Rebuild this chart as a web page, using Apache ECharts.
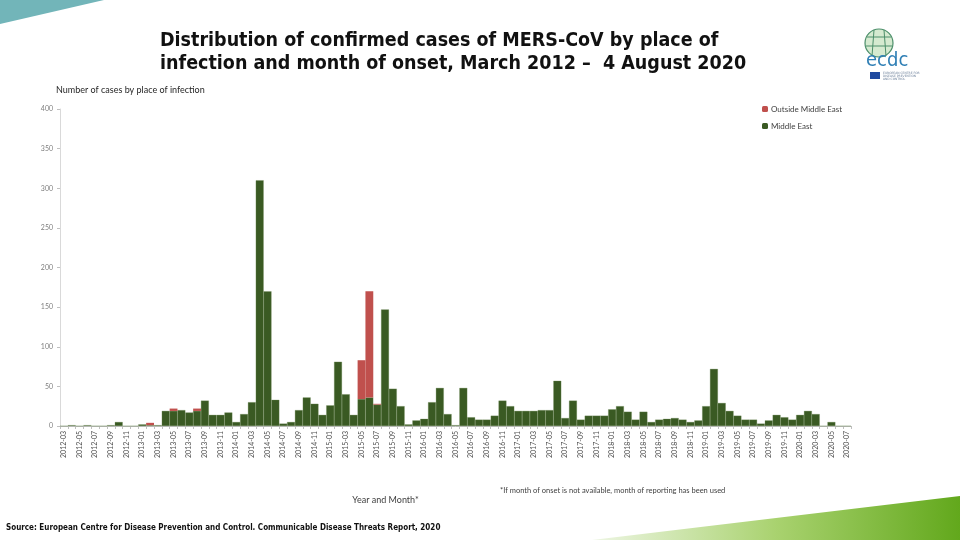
<!DOCTYPE html>
<html>
<head>
<meta charset="utf-8">
<script src="https://cdn.jsdelivr.net/npm/echarts@6/dist/echarts.min.js"></script>
<style>
  html, body { margin: 0; padding: 0; background: #fff; }
  #main { width: 960px; height: 540px; }
</style>
</head>
<body>
<div id="main"></div>
<script>
// months March 2012 - July 2020
const months = [];
for (let y = 2012; y <= 2020; y++) {
  for (let m = 1; m <= 12; m++) {
    if (y === 2012 && m < 3) continue;
    if (y === 2020 && m > 7) continue;
    months.push(y + '-' + (m < 10 ? '0' + m : m));
  }
}

const middleEast = [
  0, 1, 0, 1, 0, 0, 1, 5, 0, 0,          // 2012-03 .. 2012-12
  2, 1, 1, 19, 19, 20, 17, 19, 32, 14, 14, 17,   // 2013
  5, 15, 30, 310, 170, 33, 3, 5, 20, 36, 28, 14, // 2014
  26, 81, 40, 14, 34, 36, 27, 147, 47, 25, 2, 7, // 2015
  9, 30, 48, 15, 1, 48, 11, 8, 8, 13, 32, 25,    // 2016
  19, 19, 19, 20, 20, 57, 10, 32, 8, 13, 13, 13, // 2017
  21, 25, 18, 8, 18, 5, 8, 9, 10, 8, 5, 7,       // 2018
  25, 72, 29, 19, 13, 8, 8, 3, 7, 14, 11, 8,     // 2019
  14, 19, 15, 0, 5, 0, 0                         // 2020-01 .. 2020-07
];

const outsideMiddleEast = [
  0, 0, 0, 0, 0, 0, 0, 0, 0, 0,
  0, 3, 0, 0, 3, 0, 0, 3, 0, 0, 0, 0,
  0, 0, 0, 0, 0, 0, 0, 0, 0, 0, 0, 0,
  0, 0, 0, 0, 49, 134, 1, 0, 0, 0, 0, 0,
  0, 0, 0, 0, 0, 0, 0, 0, 0, 0, 0, 0,
  0, 0, 0, 0, 0, 0, 0, 0, 0, 0, 0, 0,
  0, 0, 0, 0, 0, 0, 0, 0, 0, 0, 0, 0,
  0, 0, 0, 0, 0, 0, 0, 0, 0, 0, 0, 0,
  0, 0, 0, 0, 0, 0, 0
];

const yTicks = [0, 50, 100, 150, 200, 250, 300, 350, 400];

const chart = echarts.init(document.getElementById('main'));
const font = 'Lato';

const options = {
  animation: false,
  title: {
    text: 'Distribution of confirmed cases of MERS-CoV by place of\ninfection and month of onset, March 2012 \u2013  4 August 2020',
    left: 155,
    top: 24,
    textStyle: {
      fontFamily: 'DejaVu Sans Condensed',
      fontSize: 19.5,
      fontWeight: 'bold',
      color: '#111',
      lineHeight: 23
    }
  },
  color: ['#3a5a23', '#c0504d'],
  grid: {
    left: 60,
    right: 109,
    top: 109,
    bottom: 114
  },
  legend: {
    orient: 'vertical',
    left: 757,
    top: 100,
    itemWidth: 6,
    itemHeight: 6,
    itemGap: 9,
    itemStyle: { borderWidth: 0 },
    textStyle: { fontFamily: font, fontSize: 8, color: '#404040', padding: [0, 0, 0, -2] },
    data: ['Outside Middle East', 'Middle East']
  },
  xAxis: {
    type: 'category',
    data: months,
    name: 'Year and Month*',
    nameLocation: 'middle',
    nameGap: 70,
    nameTextStyle: { fontFamily: font, fontSize: 9, color: '#404040', padding: [0, 0, 0, -140] },
    axisLine: { show: true, lineStyle: { color: '#bfbfbf' } },
    axisTick: { show: true, interval: 0, length: 3, lineStyle: { color: '#bfbfbf' } },
    axisLabel: {
      interval: 1,
      rotate: 90,
      fontFamily: font,
      fontSize: 7,
      color: '#505050',
      margin: 5
    }
  },
  yAxis: {
    type: 'value',
    min: 0,
    max: 400,
    interval: 50,
    name: 'Number of cases by place of infection',
    nameLocation: 'end',
    nameGap: 14,
    nameTextStyle: { fontFamily: font, fontSize: 9, color: '#262626', align: 'left', padding: [0, 0, 0, -4] },
    axisLine: { show: true, lineStyle: { color: '#d9d9d9' } },
    axisTick: { show: true, length: 3, lineStyle: { color: '#bfbfbf' } },
    splitLine: { show: false },
    axisLabel: {
      fontFamily: font,
      fontSize: 7,
      color: '#7f7f7f',
      margin: 7,
      formatter: v => (yTicks.indexOf(v) >= 0 ? String(v) : '')
    }
  },
  series: [{
    name: 'Middle East',
    type: 'bar',
    stack: 'cases',
    barCategoryGap: '0%',
    itemStyle: { color: '#3a5a23', borderColor: '#6f8a5a', borderWidth: 0.3 },
    data: middleEast
  }, {
    name: 'Outside Middle East',
    type: 'bar',
    stack: 'cases',
    barCategoryGap: '0%',
    itemStyle: { color: '#c0504d' },
    data: outsideMiddleEast
  }],
  graphic: [
    // teal corner top-left
    {
      type: 'polygon',
      shape: { points: [[0, 0], [104, 0], [0, 24]] },
      style: { fill: '#72b5b9' }
    },
    // green swoosh bottom-right
    {
      type: 'polygon',
      shape: { points: [[592, 540], [960, 496], [960, 540]] },
      style: {
        fill: new echarts.graphic.LinearGradient(0, 0, 1, 0, [
          { offset: 0, color: '#eef6e4' },
          { offset: 0.5, color: '#a9d26f' },
          { offset: 1, color: '#62a81c' }
        ])
      }
    },
    // ecdc logo
    {
      type: 'circle',
      shape: { cx: 879, cy: 43, r: 14 },
      style: { fill: '#d5ead0', stroke: '#4c8f6a', lineWidth: 1.2 }
    },
    {
      type: 'polyline',
      shape: { points: [[867, 37], [891, 37]] },
      style: { stroke: '#4c8f6a', lineWidth: 1 }
    },
    {
      type: 'polyline',
      shape: { points: [[866, 46], [892, 46]] },
      style: { stroke: '#4c8f6a', lineWidth: 1 }
    },
    {
      type: 'polyline',
      shape: { points: [[874, 30], [872, 56]] },
      style: { stroke: '#4c8f6a', lineWidth: 1 }
    },
    {
      type: 'polyline',
      shape: { points: [[884, 30], [886, 56]] },
      style: { stroke: '#4c8f6a', lineWidth: 1 }
    },
    {
      type: 'text',
      left: 866,
      top: 51,
      style: { text: 'ecdc', fill: '#2f7fb5', font: '20px "DejaVu Sans Condensed"' }
    },
    {
      type: 'rect',
      shape: { x: 870, y: 72, width: 10, height: 7 },
      style: { fill: '#1f4aa0' }
    },
    {
      type: 'text',
      left: 883,
      top: 72,
      style: { text: 'EUROPEAN CENTRE FOR\nDISEASE PREVENTION\nAND CONTROL', fill: '#6b7f99', font: '3px "DejaVu Sans"', lineHeight: 3 }
    },
    // footnote
    {
      type: 'text',
      left: 500,
      top: 487,
      style: { text: '*If month of onset is not available, month of reporting has been used', fill: '#404040', font: '7.5px Lato' }
    },
    // source
    {
      type: 'text',
      left: 6,
      top: 524,
      style: { text: 'Source: European Centre for Disease Prevention and Control. Communicable Disease Threats Report, 2020', fill: '#111', font: 'bold 8px "DejaVu Sans Condensed"' }
    }
  ]
};
chart.setOption(options, true);
</script>
</body>
</html>
